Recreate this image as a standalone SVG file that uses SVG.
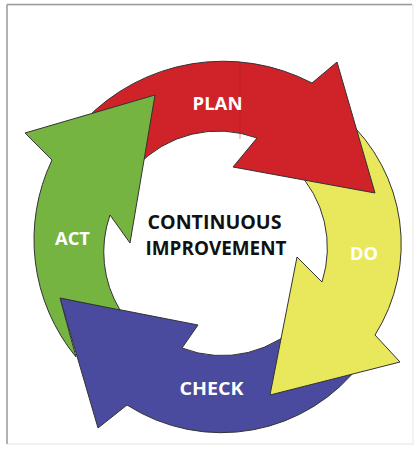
<svg xmlns="http://www.w3.org/2000/svg" width="417" height="449" viewBox="0 0 417 449">
<style>
.arrow{stroke:#333;stroke-width:1;stroke-linejoin:miter}
.lbl{font-family:"Open Sans","Liberation Sans",sans-serif;font-weight:bold;font-size:18px;fill:#ffffff;text-anchor:middle}
.ctr{font-family:"Open Sans","Liberation Sans",sans-serif;font-weight:bold;font-size:19.5px;fill:#111111;text-anchor:middle}
</style>
<rect x="0" y="0" width="417" height="449" fill="#ffffff"/>
<g id="frame">
<rect x="7" y="5" width="406" height="439" fill="none" stroke="#e6e6e6" stroke-width="1"/>
<line x1="7" y1="4.5" x2="412" y2="4.5" stroke="#9c9c9c" stroke-width="1.5"/>
<line x1="7" y1="4.5" x2="7" y2="444" stroke="#9c9c9c" stroke-width="1.5"/>
</g>
<g id="connectors">
<g id="check-arrow">
<path class="arrow" fill="#4a4a9e" d="M362,362 A175,175 0 0 1 127,405 L98,428 L60,298 L198,325 L182,348 A110,110 0 0 0 305,318 Z"/>
</g>
<g id="do-arrow">
<path class="arrow" fill="#e9e85c" d="M345,118 A170,170 0 0 1 375,335 L400,362 L270,395 L297,257 L322,282 A112,112 0 0 0 295,169 Z"/>
</g>
<g id="plan-arrow">
<path class="arrow" fill="#cf2229" d="M84,121 A192,192 0 0 1 312,83 L337,62 L375,193 L233,167 L257,138 A112,112 0 0 0 136,167 Z"/>
<line x1="240" y1="63" x2="240" y2="139" stroke="#b81d24" stroke-width="0.8" opacity="0.6"/>
</g>
<g id="act-arrow">
<path class="arrow" fill="#76b442" d="M76,357 L60,298 L120,310 A112,112 0 0 1 110,215 L130,243 L155,95 L25,133 L52,160 A185,185 0 0 0 76,357 Z"/>
</g>
</g>
<g id="node-plan"><text class="lbl" x="217.5" y="110" textLength="50" lengthAdjust="spacingAndGlyphs">PLAN</text></g>
<g id="node-do"><text class="lbl" x="364" y="260" textLength="28" lengthAdjust="spacingAndGlyphs">DO</text></g>
<g id="node-check"><text class="lbl" x="211.5" y="395" textLength="64" lengthAdjust="spacingAndGlyphs">CHECK</text></g>
<g id="node-act"><text class="lbl" x="72.5" y="245" textLength="35" lengthAdjust="spacingAndGlyphs">ACT</text></g>
<g id="node-center">
<text class="ctr" x="214.5" y="229" textLength="134" lengthAdjust="spacingAndGlyphs">CONTINUOUS</text>
<text class="ctr" x="216" y="255" textLength="141" lengthAdjust="spacingAndGlyphs">IMPROVEMENT</text>
</g>
</svg>
